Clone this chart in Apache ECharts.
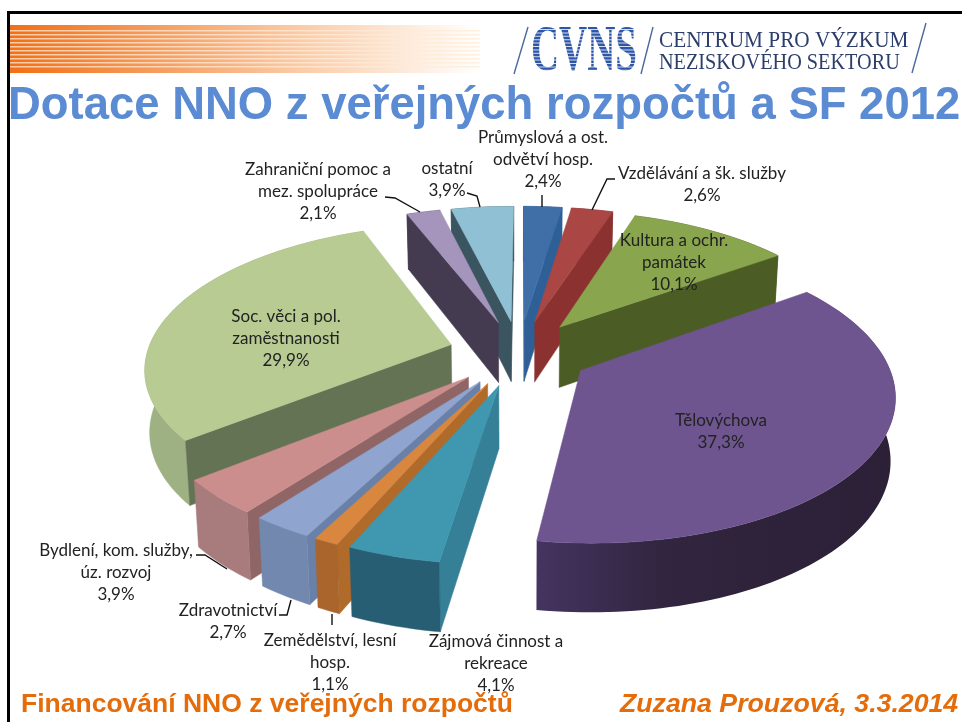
<!DOCTYPE html>
<html><head><meta charset="utf-8">
<style>html,body{margin:0;padding:0;background:#fff}#c{width:962px;height:722px}</style>
<script src="https://cdn.jsdelivr.net/npm/echarts@6/dist/echarts.min.js"></script>
</head><body><div id="c"></div>
<script>
const categories = ['Průmyslová a ost. odvětví hosp.','Vzdělávání a šk. služby','Kultura a ochr. památek','Tělovýchova','Zájmová činnost a rekreace','Zemědělství, lesní hosp.','Zdravotnictví','Bydlení, kom. služby, úz. rozvoj','Soc. věci a pol. zaměstnanosti','Zahraniční pomoc a mez. spolupráce','ostatní'];
const shares = [2.4,2.6,10.1,37.3,4.1,1.1,2.7,3.9,29.9,2.1,3.9];
const topColors = ['#3F6FA6','#AA4643','#89A54E','#6F5590','#3F97B0','#D9873F','#8FA5CF','#CC8E8D','#B7CB92','#A595BC','#8FC0D3'];
const sideColors = ['#2F5F97','#8B3230','#4B5C25','#3A2C4E','#357F97','#B06A2A','#6981A8','#8F6565','#657355','#453B50','#3B5560'];
const rimColors = ['#35618F','#7F2E2C','#4B5C25','#35284A','#285E74','#A9652C','#7288AE','#A87C7C','#9DB182','#453B50','#3B5560'];
const labelTexts = ['Průmyslová a ost.\nodvětví hosp.\n2,4%','Vzdělávání a šk. služby\n2,6%','Kultura a ochr.\npamátek\n10,1%','Tělovýchova\n37,3%','Zájmová činnost a\nrekreace\n4,1%','Zemědělství, lesní\nhosp.\n1,1%','Zdravotnictví\n2,7%','Bydlení, kom. služby,\núz. rozvoj\n3,9%','Soc. věci a pol.\nzaměstnanosti\n29,9%','Zahraniční pomoc a\nmez. spolupráce\n2,1%','ostatní\n3,9%'];

// layout
const labelPos = [[543,160],[702,185],[674,263],[721,432],[496,664],[330,663],[228,622],[116,573],[286,339],[318,192],[447,180]];
const leaders = [[[542,195],[542,207]],[[615,179],[607,179],[592,210]],[[196,555],[205,555],[227,569]],[[279,615],[287,615],[291,600]],[[332,614],[332,625]],[[385,197],[395,198],[420,212]],[[467,193],[477,196],[480,207]]];
const G = {cx:519, cy:353, S:304, K:141, p:0.15, H:61.4, hp:0.1, e:0.233, zs:0.987};

function proj(X,Y,z){
  const w=1-G.p*Y;
  let sx=G.S*X/w, sy=G.cy+G.K*Y/w;
  if(z){sx*=G.zs; sy+=G.H/(1-G.hp*Y);}
  return [G.cx+sx, sy];
}
function area(pts){let s=0;for(let i=0;i<pts.length;i++){const a=pts[i],b=pts[(i+1)%pts.length];s+=a[0]*b[1]-b[0]*a[1];}return s;}

let cum=0;
const items = shares.map((v,i)=>{const s=cum;cum+=v;return {value:[s,cum,i],name:categories[i]};});
const mid = it => (it.value[0]+it.value[1])/2*Math.PI/50;
items.sort((a,b)=>(-Math.cos(mid(a)))-(-Math.cos(mid(b))));

function renderSlice(params,api){
  const sa=api.value(0)*Math.PI/50, ea=api.value(1)*Math.PI/50, i=api.value(2), m=(sa+ea)/2;
  const ax=G.e*Math.sin(m), ay=-G.e*Math.cos(m);
  const rim=z=>{const n=Math.max(4,Math.round((ea-sa)*40)),o=[];for(let k=0;k<=n;k++){const t=sa+(ea-sa)*k/n;o.push(proj(ax+Math.sin(t),ay-Math.cos(t),z));}return o;};
  const rt=rim(0), rb=rim(1), aT=proj(ax,ay,0), aB=proj(ax,ay,1);
  const poly=(pts,fill)=>({type:'polygon',shape:{points:pts},style:{fill:fill,stroke:typeof fill==='string'?fill:null,lineWidth:0.5}});
  const ch=[];
  const sw=[aT,rt[0],rb[0],aB], ew=[aT,rt[rt.length-1],rb[rb.length-1],aB];
  const rimFill = shares[i]>30 ? new echarts.graphic.LinearGradient(0,0,1,0,[{offset:0,color:'#443460'},{offset:0.35,color:'#31253F'},{offset:1,color:'#2B2036'}]) : rimColors[i];
  const outer=poly(rt.concat(rb.slice().reverse()),rimFill);
  const frontish=Math.cos(m)<0;
  if(!frontish) ch.push(outer);
  if(area(sw)<0) ch.push(poly(sw,sideColors[i]));
  if(area(ew)>0) ch.push(poly(ew,sideColors[i]));
  if(frontish) ch.push(outer);
  ch.push(poly([aT].concat(rt),topColors[i]));
  return {type:'group',children:ch};
}

const graphics=[];
// frame
graphics.push({type:'rect',shape:{x:7,y:11,width:955,height:3},style:{fill:'#000'},z:1});
graphics.push({type:'rect',shape:{x:7,y:11,width:3,height:711},style:{fill:'#000'},z:1});
// orange band
graphics.push({type:'rect',shape:{x:10,y:25,width:470,height:48},z:1,style:{fill:new echarts.graphic.LinearGradient(0,0,1,0,[{offset:0,color:'#F26F16'},{offset:0.3,color:'#F59B5C'},{offset:0.6,color:'#FAC9A3'},{offset:0.85,color:'#FDEBDD'},{offset:1,color:'#FFFFFF'}])}});
[30,34,38,42,46,50,54,58,62,66].forEach(y=>graphics.push({type:'rect',shape:{x:10,y:y,width:470,height:1.4},z:2,style:{fill:'rgba(255,235,215,0.75)'}}));
// logo
[[[528,27],[514,74]],[[653,27],[641,74]],[[926,23],[912,73]]].forEach(l=>graphics.push({type:'line',shape:{x1:l[0][0],y1:l[0][1],x2:l[1][0],y2:l[1][1]},style:{stroke:'#4A6A9C',lineWidth:1.4},z:3}));
graphics.push({type:'text',x:584,y:53,scaleX:0.59,z:3,style:{text:'CVNS',fill:'#2D55A8',font:'bold 66px "Liberation Serif"',textAlign:'center',textVerticalAlign:'middle'}});
for(let y=29;y<72;y+=3.4) graphics.push({type:'rect',shape:{x:528,y:y,width:113,height:1},z:4,style:{fill:'rgba(255,255,255,0.8)'}});
graphics.push({type:'text',x:659,y:41,scaleX:0.925,z:3,style:{text:'CENTRUM PRO VÝZKUM',fill:'#2C3E6B',font:'23px "Liberation Serif"',textAlign:'left',textVerticalAlign:'middle'}});
graphics.push({type:'text',x:659,y:63,scaleX:0.88,z:3,style:{text:'NEZISKOVÉHO SEKTORU',fill:'#2C3E6B',font:'23px "Liberation Serif"',textAlign:'left',textVerticalAlign:'middle'}});
// title + footer
graphics.push({type:'text',x:8,y:106,scaleX:0.967,z:5,style:{text:'Dotace NNO z veřejných rozpočtů a SF 2012',fill:'#5B8BD3',font:'bold 47px "Liberation Sans"',textAlign:'left',textVerticalAlign:'middle'}});
graphics.push({type:'text',x:21,y:705,z:25,style:{text:'Financování NNO z veřejných rozpočtů',fill:'#E46C0A',font:'bold 26.5px "Liberation Sans"',textAlign:'left',textVerticalAlign:'middle'}});
graphics.push({type:'text',x:620,y:705,z:25,style:{text:'Zuzana Prouzová, 3.3.2014',fill:'#E46C0A',font:'italic bold 26.7px "Liberation Sans"',textAlign:'left',textVerticalAlign:'middle'}});
// labels
labelTexts.forEach((t,i)=>graphics.push({type:'text',x:labelPos[i][0],y:labelPos[i][1],z:20,style:{text:t,fill:'#222',font:'17px Lato',lineHeight:22,textAlign:'center',textVerticalAlign:'middle'}}));
leaders.forEach(l=>graphics.push({type:'polyline',shape:{points:l},z:20,style:{stroke:'#111',lineWidth:1.4,fill:null}}));

const chart=echarts.init(document.getElementById('c'),null,{renderer:'canvas'});
chart.setOption({
  animation:false,
  backgroundColor:'#fff',
  graphic:{elements:graphics},
  series:[{type:'custom',coordinateSystem:'none',renderItem:renderSlice,data:items,z:10,silent:true,clip:false,dimensions:['start','end','idx'],encode:{}}]
});
</script></body></html>
